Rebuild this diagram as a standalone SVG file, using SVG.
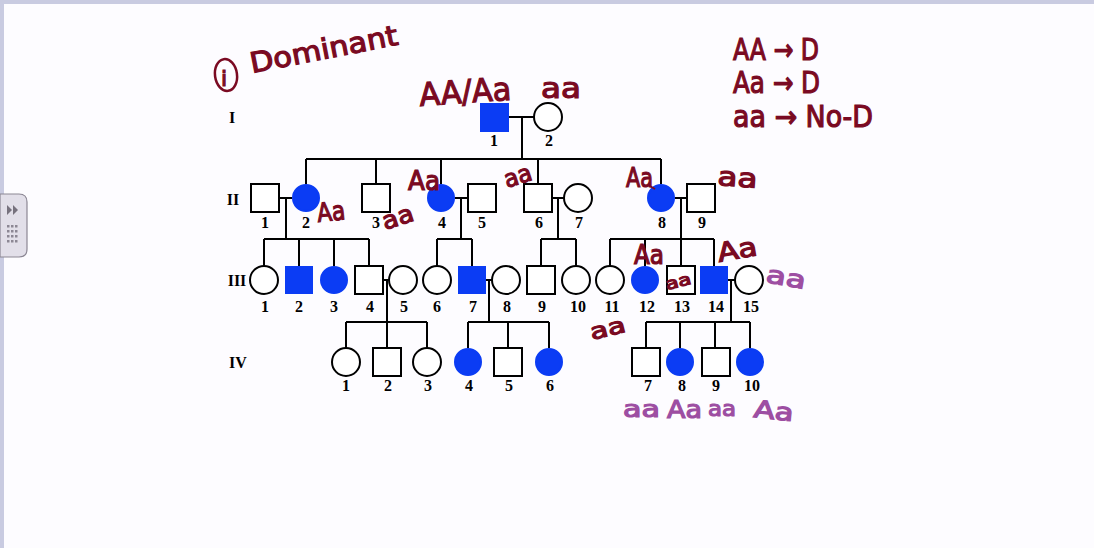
<svg xmlns="http://www.w3.org/2000/svg" width="1094" height="548" viewBox="0 0 1094 548">
<style>
.ln{stroke:#000;stroke-width:2;fill:none}
.sq{fill:#fff;stroke:#000;stroke-width:2}
.af{fill:#0b3cf4;stroke:#0b3cf4;stroke-width:2}
.num{font-family:"Liberation Serif",serif;font-weight:bold;font-size:16px;fill:#000;text-anchor:middle}
.hw{font-family:"DejaVu Sans",sans-serif;fill:#7a0a22;stroke:#7a0a22;stroke-width:1.2}
.hp{font-family:"DejaVu Sans",sans-serif;fill:#9d4ea2;stroke:#9d4ea2;stroke-width:1.2}
</style>
<rect x="0" y="0" width="1094" height="548" fill="#fdfcff"/>
<rect x="0" y="0" width="1094" height="4" fill="#c9cbe1"/>
<rect x="0" y="0" width="4" height="548" fill="#c9cbe1"/>
<g id="sidebar-tab">
<path d="M0 194 H19 Q27 194 27 202 V249 Q27 257 19 257 H0 Z" fill="#e2dfe9" stroke="#8c8794" stroke-width="1.2"/>
<polygon points="7,205 7,215 12,210" fill="#77727e"/>
<polygon points="13,205 13,215 18,210" fill="#77727e"/>
<g fill="#8c8794">
<rect x="7" y="225" width="2.5" height="2.5"/><rect x="11" y="225" width="2.5" height="2.5"/><rect x="15" y="225" width="2.5" height="2.5"/>
<rect x="7" y="230" width="2.5" height="2.5"/><rect x="11" y="230" width="2.5" height="2.5"/><rect x="15" y="230" width="2.5" height="2.5"/>
<rect x="7" y="235" width="2.5" height="2.5"/><rect x="11" y="235" width="2.5" height="2.5"/><rect x="15" y="235" width="2.5" height="2.5"/>
<rect x="7" y="240" width="2.5" height="2.5"/><rect x="11" y="240" width="2.5" height="2.5"/><rect x="15" y="240" width="2.5" height="2.5"/>
</g>
</g>
<g id="connectors">
<path class="ln" d="M508 117 H534 M522 117 V159 M306 159 H661 M306 159 V184 M376 159 V184 M441 159 V184 M538 159 V184 M661 159 V184"/>
<path class="ln" d="M279 198 H292 M455 198 H468 M552 198 H564 M675 198 H687"/>
<path class="ln" d="M286 198 V239 M461 198 V239 M558 198 V239 M681 198 V239"/>
<path class="ln" d="M264 239 H369 M437 239 H472 M541 239 H576 M610 239 H714"/>
<path class="ln" d="M264 239 V266 M299 239 V266 M334 239 V266 M369 239 V266 M437 239 V266 M472 239 V266 M541 239 V266 M576 239 V266 M610 239 V266 M645 239 V266 M681 239 V266 M714 239 V266"/>
<path class="ln" d="M383 280 H389 M486 280 H492 M728 280 H735"/>
<path class="ln" d="M387 280 V322 M489 280 V322 M731 280 V322"/>
<path class="ln" d="M346 322 H427 M468 322 H549 M646 322 H750"/>
<path class="ln" d="M346 322 V348 M387 322 V348 M427 322 V348 M468 322 V348 M508 322 V348 M549 322 V348 M646 322 V348 M680 322 V348 M715 322 V348 M750 322 V348"/>
</g>
<g id="gen-labels" class="num">
<text x="232" y="123">I</text>
<text x="233" y="205">II</text>
<text x="237" y="286">III</text>
<text x="238" y="368">IV</text>
</g>
<g id="I-1"><rect class="af" x="481" y="104" width="27" height="27"/><text class="num" x="494" y="146">1</text></g>
<g id="I-2"><circle class="sq" cx="548" cy="117" r="14"/><text class="num" x="549" y="146">2</text></g>
<g id="II-1"><rect class="sq" x="251" y="184" width="28" height="28"/><text class="num" x="265" y="228">1</text></g>
<g id="II-2"><circle class="af" cx="306" cy="198" r="13"/><text class="num" x="306" y="228">2</text></g>
<g id="II-3"><rect class="sq" x="362" y="184" width="28" height="28"/><text class="num" x="376" y="228">3</text></g>
<g id="II-4"><circle class="af" cx="441" cy="198" r="13"/><text class="num" x="442" y="228">4</text></g>
<g id="II-5"><rect class="sq" x="468" y="184" width="28" height="28"/><text class="num" x="482" y="228">5</text></g>
<g id="II-6"><rect class="sq" x="524" y="184" width="28" height="28"/><text class="num" x="539" y="228">6</text></g>
<g id="II-7"><circle class="sq" cx="578" cy="198" r="14"/><text class="num" x="579" y="228">7</text></g>
<g id="II-8"><circle class="af" cx="661" cy="198" r="13"/><text class="num" x="662" y="228">8</text></g>
<g id="II-9"><rect class="sq" x="687" y="184" width="28" height="28"/><text class="num" x="702" y="228">9</text></g>
<g id="III-1"><circle class="sq" cx="264" cy="280" r="14"/><text class="num" x="265" y="312">1</text></g>
<g id="III-2"><rect class="af" x="286" y="267" width="26" height="26"/><text class="num" x="299" y="312">2</text></g>
<g id="III-3"><circle class="af" cx="334" cy="280" r="13"/><text class="num" x="334" y="312">3</text></g>
<g id="III-4"><rect class="sq" x="355" y="266" width="28" height="28"/><text class="num" x="370" y="312">4</text></g>
<g id="III-5"><circle class="sq" cx="403" cy="280" r="14"/><text class="num" x="404" y="312">5</text></g>
<g id="III-6"><circle class="sq" cx="437" cy="280" r="14"/><text class="num" x="437" y="312">6</text></g>
<g id="III-7"><rect class="af" x="459" y="267" width="26" height="26"/><text class="num" x="473" y="312">7</text></g>
<g id="III-8"><circle class="sq" cx="506" cy="280" r="14"/><text class="num" x="507" y="312">8</text></g>
<g id="III-9"><rect class="sq" x="527" y="266" width="28" height="28"/><text class="num" x="542" y="312">9</text></g>
<g id="III-10"><circle class="sq" cx="576" cy="280" r="14"/><text class="num" x="578" y="312">10</text></g>
<g id="III-11"><circle class="sq" cx="610" cy="280" r="14"/><text class="num" x="612" y="312">11</text></g>
<g id="III-12"><circle class="af" cx="645" cy="280" r="13"/><text class="num" x="647" y="312">12</text></g>
<g id="III-13"><rect class="sq" x="667" y="266" width="28" height="28"/><text class="num" x="682" y="312">13</text></g>
<g id="III-14"><rect class="af" x="701" y="267" width="26" height="26"/><text class="num" x="716" y="312">14</text></g>
<g id="III-15"><circle class="sq" cx="749" cy="280" r="14"/><text class="num" x="751" y="312">15</text></g>
<g id="IV-1"><circle class="sq" cx="346" cy="362" r="14"/><text class="num" x="346" y="391">1</text></g>
<g id="IV-2"><rect class="sq" x="373" y="348" width="28" height="28"/><text class="num" x="388" y="391">2</text></g>
<g id="IV-3"><circle class="sq" cx="427" cy="362" r="14"/><text class="num" x="428" y="391">3</text></g>
<g id="IV-4"><circle class="af" cx="468" cy="362" r="13"/><text class="num" x="469" y="391">4</text></g>
<g id="IV-5"><rect class="sq" x="494" y="348" width="28" height="28"/><text class="num" x="509" y="391">5</text></g>
<g id="IV-6"><circle class="af" cx="549" cy="362" r="13"/><text class="num" x="550" y="391">6</text></g>
<g id="IV-7"><rect class="sq" x="632" y="348" width="28" height="28"/><text class="num" x="648" y="391">7</text></g>
<g id="IV-8"><circle class="af" cx="680" cy="362" r="13"/><text class="num" x="682" y="391">8</text></g>
<g id="IV-9"><rect class="sq" x="702" y="348" width="28" height="28"/><text class="num" x="716" y="391">9</text></g>
<g id="IV-10"><circle class="af" cx="750" cy="362" r="13"/><text class="num" x="752" y="391">10</text></g>
<g id="annotations">
<ellipse cx="226" cy="75" rx="11" ry="16" fill="none" stroke="#7a0a22" stroke-width="2.5" transform="rotate(-8 226 75)"/>
<text class="hw" x="221" y="86" font-size="22">i</text>
<text class="hw" x="252" y="73" font-size="28" textLength="150" lengthAdjust="spacingAndGlyphs" transform="rotate(-11 252 73)">Dominant</text>
<text class="hw" x="733" y="60" font-size="30" textLength="86" lengthAdjust="spacingAndGlyphs">AA → D</text>
<text class="hw" x="733" y="93" font-size="30" textLength="87" lengthAdjust="spacingAndGlyphs">Aa → D</text>
<text class="hw" x="733" y="127" font-size="30" textLength="140" lengthAdjust="spacingAndGlyphs">aa → No-D</text>
<text class="hw" x="420" y="106" font-size="32" textLength="92" lengthAdjust="spacingAndGlyphs" transform="rotate(-4 420 106)">AA/Aa</text>
<text class="hw" x="541" y="98" font-size="28" textLength="40" lengthAdjust="spacingAndGlyphs">aa</text>
<text class="hw" x="318" y="222" font-size="26" textLength="28" lengthAdjust="spacingAndGlyphs" transform="rotate(-6 318 222)">Aa</text>
<text class="hw" x="385" y="230" font-size="24" textLength="32" lengthAdjust="spacingAndGlyphs" transform="rotate(-18 385 230)">aa</text>
<text class="hw" x="408" y="190" font-size="26" textLength="32" lengthAdjust="spacingAndGlyphs">Aa</text>
<path d="M432 190 L437 185" stroke="#7a0a22" stroke-width="2"/>
<text class="hw" x="507" y="188" font-size="24" textLength="28" lengthAdjust="spacingAndGlyphs" transform="rotate(-18 507 188)">aa</text>
<text class="hw" x="626" y="187" font-size="27" textLength="27" lengthAdjust="spacingAndGlyphs">Aa</text>
<path d="M648 185 L655 189" stroke="#7a0a22" stroke-width="2"/>
<text class="hw" x="717" y="185" font-size="26" textLength="40" lengthAdjust="spacingAndGlyphs" transform="rotate(4 717 185)">aa</text>
<text class="hw" x="634" y="264" font-size="26" textLength="30" lengthAdjust="spacingAndGlyphs">Aa</text>
<text class="hw" x="667" y="290" font-size="16" textLength="26" lengthAdjust="spacingAndGlyphs" transform="rotate(-14 667 290)">aa</text>
<text class="hw" x="719" y="262" font-size="26" textLength="40" lengthAdjust="spacingAndGlyphs" transform="rotate(-10 719 262)">Aa</text>
<text class="hp" x="765" y="282" font-size="24" textLength="40" lengthAdjust="spacingAndGlyphs" transform="rotate(10 765 282)">aa</text>
<text class="hw" x="592" y="340" font-size="22" textLength="36" lengthAdjust="spacingAndGlyphs" transform="rotate(-14 592 340)">aa</text>
<text class="hp" x="623" y="417" font-size="23" textLength="37" lengthAdjust="spacingAndGlyphs">aa</text>
<text class="hp" x="667" y="418" font-size="24" textLength="35" lengthAdjust="spacingAndGlyphs">Aa</text>
<text class="hp" x="708" y="416" font-size="22" textLength="28" lengthAdjust="spacingAndGlyphs">aa</text>
<text class="hp" x="753" y="417" font-size="24" textLength="40" lengthAdjust="spacingAndGlyphs" transform="rotate(6 753 417)">Aa</text>
</g>
</svg>
